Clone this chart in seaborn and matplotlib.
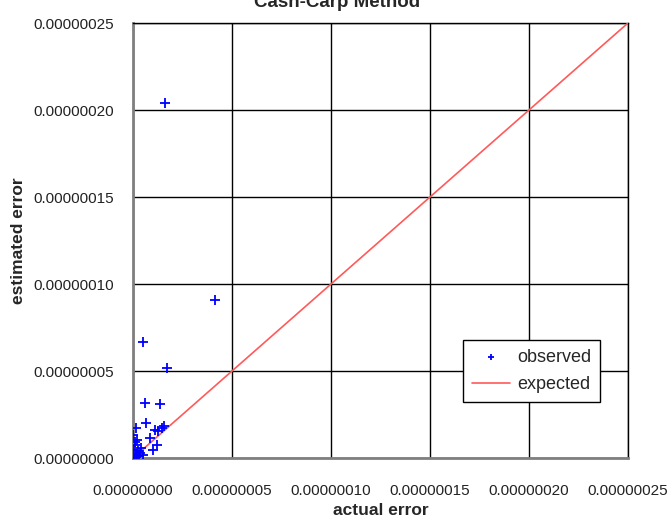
import numpy as np
import pandas as pd
import matplotlib
matplotlib.use("Agg")
import matplotlib.pyplot as plt
import seaborn as sns
from matplotlib.ticker import FormatStrFormatter, MultipleLocator

# observed points, units of 1e-8
actual = [1.62, 4.14, 0.50, 1.72, 0.60, 1.36, 0.66, 0.15, 1.10, 1.46, 1.56, 1.26,
          0.00, 0.20, 0.10, 0.00, 0.25, 1.00, 0.35, 0.00, 0.20, 0.50, 1.20, 0.86,
          0.05, 0.15, 0.30, 0.40, 0.10]
estimated = [20.4, 9.10, 6.64, 5.20, 3.15, 3.10, 2.00, 1.72, 1.60, 1.72, 1.83, 1.55,
             1.30, 1.03, 0.74, 0.46, 0.40, 0.46, 0.29, 0.17, 0.11, 0.17, 0.74, 1.14,
             0.05, 0.23, 0.10, 0.60, 0.90]
expected_x = [0.0, 25.0]

obs = pd.DataFrame({"actual": np.array(actual) * 1e-8,
                    "estimated": np.array(estimated) * 1e-8})
exp = pd.DataFrame({"actual": np.array(expected_x) * 1e-8,
                    "estimated": np.array(expected_x) * 1e-8})

sns.set_style("white")
plt.rcParams["font.family"] = ["Liberation Sans", "DejaVu Sans"]

fig = plt.figure(figsize=(6.67, 5.27), dpi=100)
ax = fig.add_axes([0.1994, 0.1309, 0.7421, 0.8254])

sns.lineplot(data=exp, x="actual", y="estimated", color="#ff5a5a", lw=1.2,
             label="expected", ax=ax, zorder=3)
sns.scatterplot(data=obs, x="actual", y="estimated", marker="+", color="#0000ff",
                s=50, linewidth=1.3, label="observed", ax=ax, zorder=4)

ax.set_xlim(0, 2.5e-7)
ax.set_ylim(0, 2.5e-7)
ax.xaxis.set_major_locator(MultipleLocator(0.5e-7))
ax.yaxis.set_major_locator(MultipleLocator(0.5e-7))
ax.xaxis.set_major_formatter(FormatStrFormatter("%.8f"))
ax.yaxis.set_major_formatter(FormatStrFormatter("%.8f"))
ax.grid(True, color="black", lw=1)
ax.tick_params(axis="both", labelsize=11, width=1, color="#808080",
               direction="out", labelcolor="#222222")
ax.tick_params(axis="y", length=6, pad=8)
ax.tick_params(axis="x", length=4.5, pad=14)
for side in ["left", "bottom"]:
    ax.spines[side].set_color("#808080")
    ax.spines[side].set_linewidth(2)
for side in ["top", "right"]:
    ax.spines[side].set_color("black")
    ax.spines[side].set_linewidth(1)

ax.set_xlabel("actual error", fontsize=12.5, fontweight="bold")
ax.set_ylabel("estimated error", fontsize=12.5, fontweight="bold")
ax.xaxis.set_label_coords(0.5, -0.103)
ax.yaxis.set_label_coords(-0.216, 0.5)
fig.text(0.505, 0.9867, "Cash-Carp Method", ha="center", va="baseline",
         fontsize=13.5, fontweight="bold")

handles, labels = ax.get_legend_handles_labels()
order = [labels.index("observed"), labels.index("expected")]
leg = ax.legend([handles[i] for i in order], [labels[i] for i in order],
                loc="upper left", bbox_to_anchor=(0.6667, 0.2713),
                borderaxespad=0, fontsize=13, frameon=True, fancybox=False,
                edgecolor="black", borderpad=0.5, handlelength=2.1,
                handletextpad=0.4, labelspacing=0.55, markerscale=0.7)
leg.get_frame().set_linewidth(1)
leg.get_frame().set_alpha(1)

fig.savefig("out.png", dpi=100)
